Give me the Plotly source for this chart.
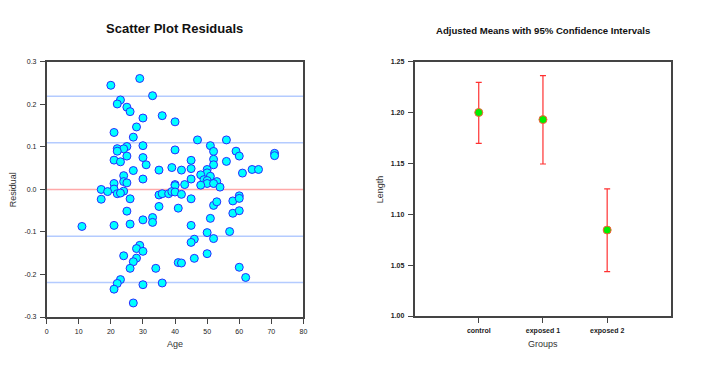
import plotly.graph_objects as go

# ---------------- Data ----------------
age = [20, 29, 33, 23, 22, 25, 26, 30, 36, 40, 28, 21, 27, 47, 56, 30, 25, 22, 24, 22,
       40, 51, 52, 59, 60, 71, 71, 25, 21, 30, 45, 52, 23, 56, 31, 52, 27, 35, 39, 42,
       45, 50, 64, 66, 61, 24, 50, 48, 51, 45, 30, 49, 50, 24, 25, 21, 53, 50, 52, 40,
       40, 43, 48, 54, 17, 21, 19, 24, 22, 23, 35, 36, 38, 39, 40, 42,
       17, 26, 35, 41, 45, 52, 53, 58, 60, 60, 25, 58, 60, 51, 30, 33, 33, 11, 21, 26,
       45, 57, 50, 46, 52, 45, 29, 28, 30, 24, 50, 28, 27, 46, 41, 42, 26, 34, 60, 62,
       23, 22, 30, 36, 21, 27]
residual = [0.245, 0.261, 0.2205, 0.2105, 0.201, 0.1935, 0.183, 0.168, 0.1735, 0.159,
            0.147, 0.134, 0.123, 0.1165, 0.1165, 0.103, 0.101, 0.096, 0.0955, 0.090,
            0.093, 0.103, 0.0895, 0.090, 0.0785, 0.085, 0.0795, 0.0785, 0.069, 0.075,
            0.0685, 0.071, 0.065, 0.066, 0.058, 0.058, 0.0445, 0.0455, 0.0515, 0.0455,
            0.049, 0.047, 0.047, 0.047, 0.0385, 0.0325, 0.039, 0.0345, 0.031, 0.0245,
            0.0245, 0.023, 0.021, 0.0185, 0.0155, 0.014, 0.0185, 0.014, 0.014, 0.0115,
            0.009, 0.0115, 0.010, 0.0055, 0.0, 0.001, -0.005, -0.004, -0.010, -0.0085,
            -0.013, -0.010, -0.010, -0.005, -0.006, -0.0115,
            -0.023, -0.022, -0.040, -0.044, -0.022, -0.0375, -0.029, -0.027, -0.015, -0.021,
            -0.051, -0.056, -0.050, -0.068, -0.0715, -0.066, -0.0775, -0.087, -0.0845, -0.0815,
            -0.0845, -0.099, -0.1015, -0.117, -0.1155, -0.1245, -0.1315, -0.139, -0.1455, -0.156,
            -0.151, -0.1615, -0.170, -0.162, -0.172, -0.173, -0.1855, -0.1855, -0.183, -0.207,
            -0.212, -0.221, -0.224, -0.220, -0.2345, -0.267]
ref_lines = [0.219, 0.11, -0.11, -0.219]
zero_line = [0.0]

groups = ["control", "exposed 1", "exposed 2"]
adj_means = [1.200, 1.193, 1.0845]
ci_lower = [1.1697, 1.1494, 1.0437]
ci_upper = [1.2295, 1.2362, 1.1250]

x_ticks = [0, 10, 20, 30, 40, 50, 60, 70, 80]
y_ticks_left = [-0.3, -0.2, -0.1, 0.0, 0.1, 0.2, 0.3]
y_ticks_right = [1.00, 1.05, 1.10, 1.15, 1.20, 1.25]

# ---------------- Figure ----------------
W, H = 720, 373
FONT = "Liberation Sans, Arial, sans-serif"

fig = go.Figure()

# reference lines in the residual plot
for v in ref_lines:
    fig.add_trace(go.Scatter(x=[0, 80], y=[v, v], mode="lines",
                             line=dict(color="#b4cbff", width=1.5),
                             hoverinfo="skip", showlegend=False, xaxis="x", yaxis="y"))
for v in zero_line:
    fig.add_trace(go.Scatter(x=[0, 80], y=[v, v], mode="lines",
                             line=dict(color="#ffa8a8", width=1.5),
                             hoverinfo="skip", showlegend=False, xaxis="x", yaxis="y"))

fig.add_trace(go.Scatter(
    x=age, y=residual, mode="markers", showlegend=False, xaxis="x", yaxis="y",
    marker=dict(size=8, color="#00ffff", line=dict(color="#2a2aff", width=1)),
))

err_plus = [u - m for u, m in zip(ci_upper, adj_means)]
err_minus = [m - l for m, l in zip(adj_means, ci_lower)]
fig.add_trace(go.Scatter(
    x=[0, 1, 2], y=adj_means, mode="markers", showlegend=False, xaxis="x2", yaxis="y2",
    marker=dict(size=8, color="#00ee00", line=dict(color="#ff5a3c", width=1)),
    error_y=dict(type="data", symmetric=False, array=err_plus, arrayminus=err_minus,
                 color="#ff3030", thickness=1.2, width=3),
))

axis_common = dict(showgrid=False, zeroline=False, showline=True, mirror=True,
                   linecolor="#444444", linewidth=1.5, ticks="outside", ticklen=5,
                   tickcolor="#444444", tickwidth=1.2)

x0l, x1l = 45 / W, 304 / W
y0l, y1l = (H - 319) / H, (H - 59) / H
x0r, x1r = 416 / W, 675 / W
y0r, y1r = (H - 318) / H, (H - 58.7) / H

fig.update_layout(
    width=W, height=H, margin=dict(l=0, r=0, t=0, b=0),
    paper_bgcolor="white", plot_bgcolor="white",
    font=dict(family=FONT, color="#222222"),
    xaxis=dict(domain=[x0l, x1l], range=[0, 80], tickvals=x_ticks, ticklabelstandoff=2,
               tickfont=dict(size=7, family=FONT, color="#222"), anchor="y", **axis_common),
    yaxis=dict(domain=[y0l, y1l], range=[-0.3, 0.3], tickvals=y_ticks_left,
               ticktext=[f"{v:.1f}" for v in y_ticks_left], ticklabelstandoff=2,
               tickfont=dict(size=7, family=FONT, color="#222"), anchor="x", **axis_common),
    xaxis2=dict(domain=[x0r, x1r], range=[-1, 3], tickvals=[0, 1, 2], ticktext=groups,
                ticklabelstandoff=2,
                tickfont=dict(size=7, family=FONT, color="#222", weight="bold"),
                anchor="y2", **axis_common),
    yaxis2=dict(domain=[y0r, y1r], range=[1.0, 1.25], tickvals=y_ticks_right,
                ticktext=[f"{v:.2f}" for v in y_ticks_right], ticklabelstandoff=2,
                tickfont=dict(size=7, family=FONT, color="#222", weight="bold"),
                anchor="x2", **axis_common),
)

annotations = [
    dict(text="<b>Scatter Plot Residuals</b>", x=174 / W, y=(H - 25) / H,
         font=dict(size=13, family=FONT, color="#111")),
    dict(text="<b>Adjusted Means with 95% Confidence Intervals</b>", x=545.5 / W,
         y=(H - 26.5) / H, font=dict(size=9.6, family=FONT, color="#111")),
    dict(text="Age", x=174.5 / W, y=(H - 346) / H, font=dict(size=9, family=FONT, color="#333")),
    dict(text="Groups", x=545.7 / W, y=(H - 346) / H, font=dict(size=9, family=FONT, color="#333")),
    dict(text="Residual", x=12 / W, y=(H - 189) / H, textangle=-90,
         font=dict(size=9, family=FONT, color="#333")),
    dict(text="Length", x=382 / W, y=(H - 189) / H, textangle=-90,
         font=dict(size=9, family=FONT, color="#333")),
]
for a in annotations:
    a.update(xref="paper", yref="paper", showarrow=False, xanchor="center", yanchor="middle")
fig.update_layout(annotations=annotations)

fig.write_html("out.html", config={"displayModeBar": False})

# remove the default page margin so the figure sits at the window origin
with open("out.html", "r", encoding="utf-8") as f:
    html = f.read()
html = html.replace("<head>", "<head><style>html,body{margin:0;padding:0;overflow:hidden;}</style>", 1)
with open("out.html", "w", encoding="utf-8") as f:
    f.write(html)
